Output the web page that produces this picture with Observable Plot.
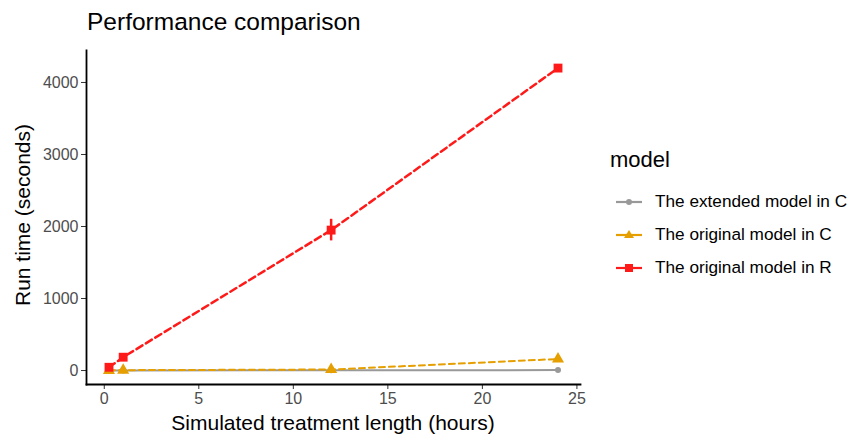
<!DOCTYPE html>
<html><head><meta charset="utf-8">
<script src="https://cdn.jsdelivr.net/npm/d3@7"></script>
<script src="https://cdn.jsdelivr.net/npm/@observablehq/plot@0.6"></script>
<style>
body{margin:0;background:#fff;font-family:"Liberation Sans",Arial,Helvetica,sans-serif;}
#wrap{position:relative;width:850px;height:435px;}
#title{position:absolute;left:87px;top:8px;font-size:24.5px;color:#000;}
#xlab{position:absolute;left:86px;width:494px;top:411px;text-align:center;font-size:21px;color:#000;}
#ylab{position:absolute;left:23px;top:215px;transform:translate(-50%,-50%) rotate(-90deg);font-size:21px;white-space:nowrap;color:#000;}
#legend{position:absolute;left:610px;top:147px;color:#000;}
#legend .lt{font-size:22px;margin-bottom:12px;}
#legend .it{display:flex;align-items:center;height:33px;font-size:17.2px;}
#legend svg{margin-left:5px;margin-right:12px;}
</style></head>
<body><div id="wrap"><div id="title">Performance comparison</div><div id="xlab">Simulated treatment length (hours)</div><div id="ylab">Run time (seconds)</div><div id="legend"></div></div>
<script>
const hours = [0.25, 1, 12, 24];
const models = ["The extended model in C", "The original model in C", "The original model in R"];
const extendedC = [1, 2, 4, 6];
const originalC = [2, 5, 14, 160];
const originalR = [45, 185, 1950, 4200];
const errR = [10, 15, 150, 25];
const colors = ["#999999", "#E69F00", "#FF1A1A"];
const symbols = ["circle", "triangle", "square"];
const dashes = [null, "6,4", "7,4"];
const xTicks = [0, 5, 10, 15, 20, 25];
const yTicks = [0, 1000, 2000, 3000, 4000];

const seriesVals = [extendedC, originalC, originalR];
const data = [];
models.forEach((m, i) => hours.forEach((h, j) => data.push({model: m, h, v: seriesVals[i][j], e: i === 2 ? errR[j] : 0})));

const lineMarks = models.map((m, i) => Plot.line(data.filter(d => d.model === m), {
  x: "h", y: "v", stroke: colors[i], strokeWidth: i === 2 ? 2.5 : 2, strokeDasharray: dashes[i]
}));
const dotMarks = models.map((m, i) => Plot.dot(data.filter(d => d.model === m), {
  x: "h", y: "v", fill: colors[i], symbol: symbols[i], r: i === 0 ? 3 : i === 1 ? 4.5 : 5
}));

const chart = Plot.plot({
  width: 850, height: 435,
  marginLeft: 86, marginRight: 270, marginTop: 50, marginBottom: 51,
  style: {fontFamily: '"Liberation Sans", Arial, sans-serif', background: "transparent"},
  x: {domain: [-0.94, 25.19], ticks: xTicks, label: null},
  y: {domain: [-194, 4444], ticks: yTicks, label: null},
  marks: [
    Plot.axisX({ticks: xTicks, tickSize: 5, tickPadding: 3, stroke: "#333", fill: "#4d4d4d", fontSize: 16, label: null, tickFormat: d3.format("d")}),
    Plot.axisY({ticks: yTicks, tickSize: 5, tickPadding: 3, stroke: "#333", fill: "#4d4d4d", fontSize: 16, label: null, tickFormat: d3.format("d")}),
    Plot.frame({anchor: "left", stroke: "#000", strokeWidth: 1.8}),
    Plot.frame({anchor: "bottom", stroke: "#000", strokeWidth: 1.8}),
    ...lineMarks,
    Plot.ruleX(data.filter(d => d.e > 0), {x: "h", y1: d => d.v - d.e, y2: d => d.v + d.e, stroke: colors[2], strokeWidth: 2.5}),
    ...dotMarks
  ]
});
document.getElementById("wrap").prepend(chart);

const leg = document.getElementById("legend");
leg.innerHTML = '<div class="lt">model</div>' + models.map((m, i) => {
  const sym = i === 0 ? '<circle cx="14" cy="8" r="3" fill="' + colors[i] + '"/>' :
    i === 1 ? '<path d="M14,3 L19,11 L9,11Z" fill="' + colors[i] + '"/>' :
    '<rect x="10" y="4" width="8" height="8" fill="' + colors[i] + '"/>';
  return '<div class="it"><svg width="28" height="16"><line x1="1" x2="27" y1="8" y2="8" stroke="' + colors[i] + '" stroke-width="2.2"/>' + sym + '</svg>' + m + '</div>';
}).join("");
</script></body></html>
